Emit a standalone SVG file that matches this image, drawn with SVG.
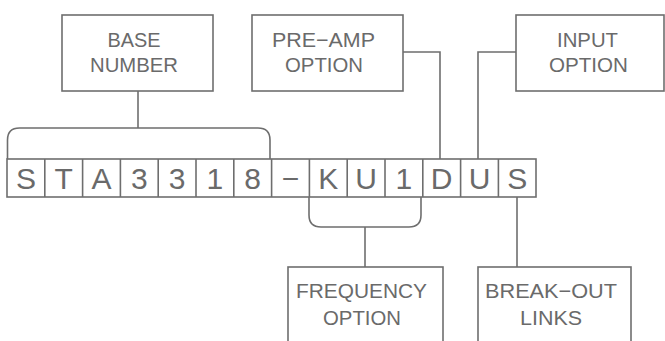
<svg xmlns="http://www.w3.org/2000/svg" width="665" height="341" viewBox="0 0 665 341">
<style>
.box{fill:#fff;stroke:#6e6e6e;stroke-width:1.6}
.ln{fill:none;stroke:#6e6e6e;stroke-width:1.6}
.lbl{font-family:"Liberation Sans","DejaVu Sans",sans-serif;font-size:21px;fill:#6a6a6a;text-anchor:middle}
.ch{font-family:"Liberation Sans","DejaVu Sans",sans-serif;font-size:30px;fill:#6a6a6a;text-anchor:middle}
.cell{fill:#fff;stroke:#6e6e6e;stroke-width:1.6}
</style>
<rect width="665" height="341" fill="#fff"/>
<g id="connectors">
<line class="ln" x1="138" y1="91" x2="138" y2="128"/>
<path class="ln" d="M7.5,159 V140 Q7.5,128 19.5,128 H258 Q270,128 270,140 V159"/>
<polyline class="ln" points="403,52 440,52 440,159"/>
<polyline class="ln" points="516,52 478,52 478,159"/>
<path class="ln" d="M309,197 V215 Q309,227 321,227 H409 Q421,227 421,215 V197"/>
<line class="ln" x1="365" y1="227" x2="365" y2="267"/>
<line class="ln" x1="517" y1="197" x2="517" y2="267"/>
</g>
<g id="base-number">
<rect class="box" x="62" y="15" width="151" height="76"/>
<text class="lbl" x="134" y="47" textLength="53" lengthAdjust="spacingAndGlyphs">BASE</text>
<text class="lbl" x="134" y="72" textLength="88" lengthAdjust="spacingAndGlyphs">NUMBER</text>
</g>
<g id="pre-amp-option">
<rect class="box" x="252" y="15" width="151" height="76"/>
<text class="lbl" x="323.5" y="47" textLength="103" lengthAdjust="spacingAndGlyphs">PRE−AMP</text>
<text class="lbl" x="324" y="72" textLength="78" lengthAdjust="spacingAndGlyphs">OPTION</text>
</g>
<g id="input-option">
<rect class="box" x="516" y="15" width="148" height="76"/>
<text class="lbl" x="587.5" y="47" textLength="61" lengthAdjust="spacingAndGlyphs">INPUT</text>
<text class="lbl" x="588.5" y="72" textLength="79" lengthAdjust="spacingAndGlyphs">OPTION</text>
</g>
<g id="part-number">
<rect class="cell" x="7" y="159" width="529" height="38"/>
<g class="ln">
<line x1="44.8" y1="159" x2="44.8" y2="197"/>
<line x1="82.6" y1="159" x2="82.6" y2="197"/>
<line x1="120.4" y1="159" x2="120.4" y2="197"/>
<line x1="158.2" y1="159" x2="158.2" y2="197"/>
<line x1="196" y1="159" x2="196" y2="197"/>
<line x1="233.8" y1="159" x2="233.8" y2="197"/>
<line x1="271.6" y1="159" x2="271.6" y2="197"/>
<line x1="309.4" y1="159" x2="309.4" y2="197"/>
<line x1="347.2" y1="159" x2="347.2" y2="197"/>
<line x1="385" y1="159" x2="385" y2="197"/>
<line x1="422.8" y1="159" x2="422.8" y2="197"/>
<line x1="460.6" y1="159" x2="460.6" y2="197"/>
<line x1="498.4" y1="159" x2="498.4" y2="197"/>
</g>
<text class="ch" x="25.9" y="189">S</text>
<text class="ch" x="63.7" y="189">T</text>
<text class="ch" x="101.5" y="189">A</text>
<text class="ch" x="139.3" y="189">3</text>
<text class="ch" x="177.1" y="189">3</text>
<text class="ch" x="214.9" y="189">1</text>
<text class="ch" x="252.7" y="189">8</text>
<text class="ch" x="290.5" y="189">−</text>
<text class="ch" x="328.3" y="189">K</text>
<text class="ch" x="366.1" y="189">U</text>
<text class="ch" x="403.9" y="189">1</text>
<text class="ch" x="441.7" y="189">D</text>
<text class="ch" x="479.5" y="189">U</text>
<text class="ch" x="517.3" y="189">S</text>
</g>
<g id="frequency-option">
<rect class="box" x="288" y="267" width="155" height="90"/>
<text class="lbl" x="361.5" y="298" textLength="131" lengthAdjust="spacingAndGlyphs">FREQUENCY</text>
<text class="lbl" x="362" y="325" textLength="78" lengthAdjust="spacingAndGlyphs">OPTION</text>
</g>
<g id="break-out-links">
<rect class="box" x="478" y="267" width="153" height="90"/>
<text class="lbl" x="551" y="298" textLength="132" lengthAdjust="spacingAndGlyphs">BREAK−OUT</text>
<text class="lbl" x="551" y="325" textLength="62" lengthAdjust="spacingAndGlyphs">LINKS</text>
</g>
</svg>
